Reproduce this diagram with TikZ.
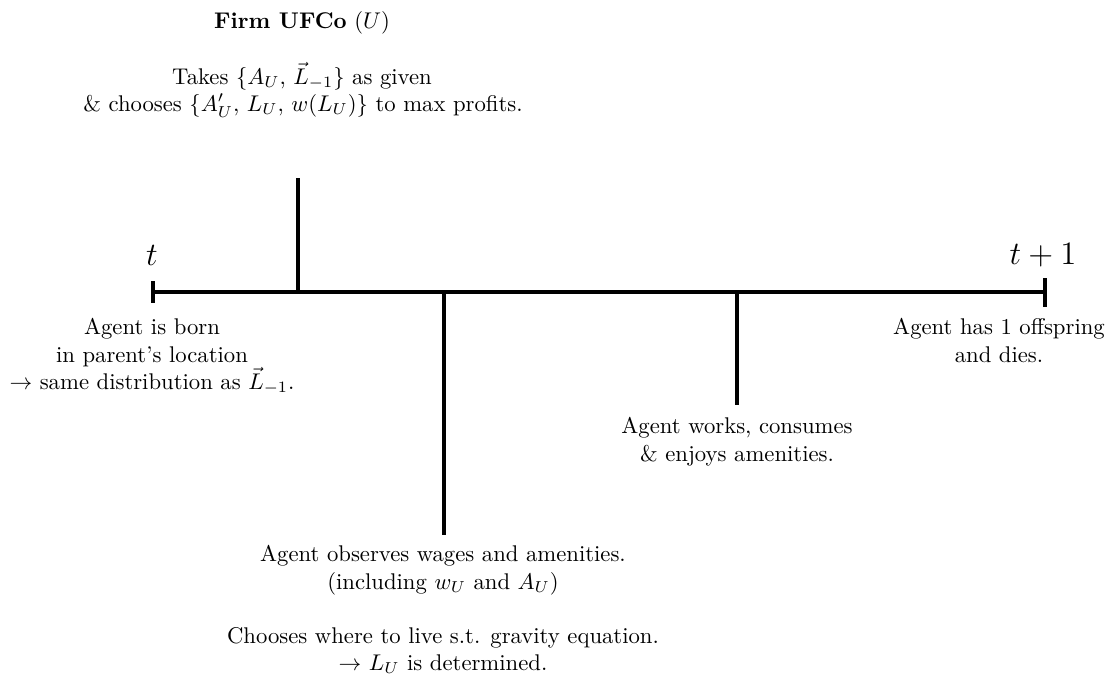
\documentclass[tikz,border=0pt]{standalone}
\usepackage{amsmath}
\begin{document}
\begin{tikzpicture}[x=0.4405pt,y=-0.4405pt,
  tl/.style={line width=1.6pt},
  lbl/.style={anchor=base,inner sep=0pt,font=\fontsize{10}{12}\selectfont},
  tick/.style={anchor=base,inner sep=0pt,font=\fontsize{13.8}{16}\selectfont}]
\useasboundingbox (0,0) rectangle (1120,679);
% timeline points
\coordinate (T0) at (153,292);
\coordinate (T1) at (1045,292);
\coordinate (T0a) at (153,281);
\coordinate (T0b) at (153,303);
\coordinate (T1a) at (1045,278);
\coordinate (T1b) at (1045,307);
\coordinate (F) at (298,292);
\coordinate (Ftop) at (298,178);
\coordinate (O) at (444,292);
\coordinate (Obot) at (444,535);
\coordinate (W) at (737,292);
\coordinate (Wbot) at (737,405);
\draw[tl] (T0) -- (T1);
\draw[tl] (T0a) -- (T0b);
\draw[tl] (T1a) -- (T1b);
\draw[tl] (F) -- (Ftop);
\draw[tl] (O) -- (Obot);
\draw[tl] (W) -- (Wbot);
% labels
\node[tick] (t) at (152,265) {$t$};
\node[tick] (t1) at (1043,264) {$t+1$};
\node[lbl] (firm) at (302,28) {\textbf{Firm UFCo} $(U)$};
\node[lbl] (takes) at (302,84) {Takes $\{A_U,\,\vec{L}_{-1}\}$ as given};
\node[lbl] (choose) at (303,111) {\& chooses $\{A'_U,\,L_U,\,w(L_U)\}$ to max profits.};
\node[lbl] (born1) at (152,334) {Agent is born};
\node[lbl] (born2) at (152,362) {in parent's location};
\node[lbl] (born3) at (152,389) {$\rightarrow$ same distribution as $\vec{L}_{-1}$.};
\node[lbl] (works1) at (737,433) {Agent works, consumes};
\node[lbl] (works2) at (737,461) {\& enjoys amenities.};
\node[lbl] (dies1) at (999,334) {Agent has 1 offspring};
\node[lbl] (dies2) at (999,362) {and dies.};
\node[lbl] (obs1) at (443,561) {Agent observes wages and amenities.};
\node[lbl] (obs2) at (443,589) {(including $w_U$ and $A_U$)};
\node[lbl] (where1) at (443,643) {Chooses where to live s.t. gravity equation.};
\node[lbl] (where2) at (443,670) {$\rightarrow$ $L_U$ is determined.};
\end{tikzpicture}
\end{document}
